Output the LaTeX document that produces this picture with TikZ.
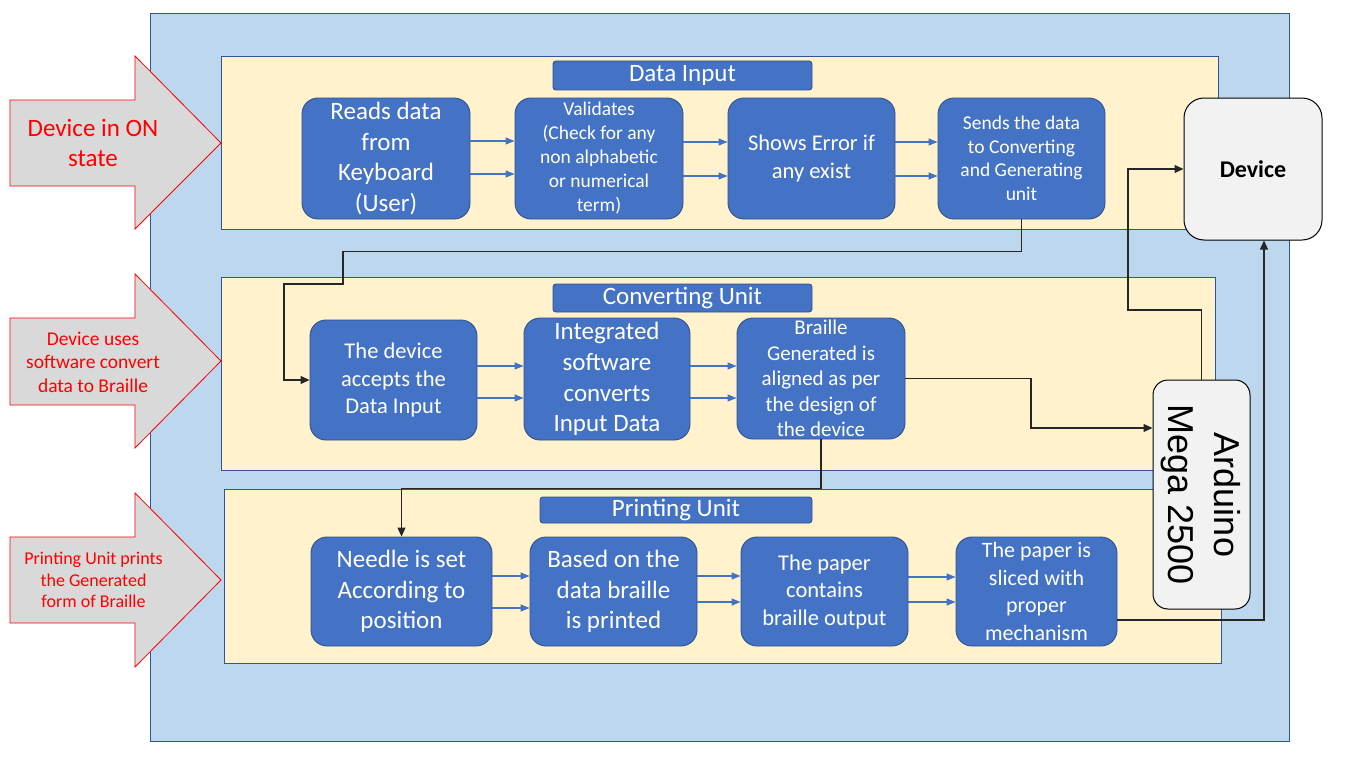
\documentclass[tikz,border=0pt]{standalone}
\usepackage{fontspec}
\setmainfont{Carlito}
\newfontfamily\arialfont{Liberation Sans}
\usetikzlibrary{arrows.meta}
\definecolor{outerfill}{HTML}{BDD7EE}
\definecolor{outerline}{HTML}{2F5597}
\definecolor{panelfill}{HTML}{FFF2CC}
\definecolor{panelline}{HTML}{2F5597}
\definecolor{boxfill}{HTML}{4472C4}
\definecolor{boxline}{HTML}{2F528F}
\definecolor{flowblue}{HTML}{4472C4}
\definecolor{arrowgray}{HTML}{D9D9D9}
\definecolor{devfill}{HTML}{F2F2F2}
\begin{document}
\begin{tikzpicture}[x=1pt,y=-1pt,
  box/.style={draw=boxline, fill=boxfill, text=white, rounded corners=16pt, align=center, inner sep=0pt, line width=0.9pt},
  titlebar/.style={draw=boxline, fill=boxfill, text=white, rounded corners=3pt, inner sep=0pt, line width=0.9pt, font=\fontsize{25}{30}\selectfont},
  panel/.style={draw=panelline, fill=panelfill, line width=0.9pt},
  flow/.style={draw=flowblue, line width=1.1pt, -{Triangle[length=9pt,width=7pt]}},
  link/.style={draw=black!85, line width=1.2pt, -{Triangle[length=9pt,width=8pt]}},
  bigarrow/.style={draw=red, fill=arrowgray, line width=0.8pt},
  redtext/.style={text=red, align=center, inner sep=0pt},
  greybox/.style={draw=black, fill=devfill, line width=1pt, inner sep=0pt}
]
\useasboundingbox (0,0) rectangle (1366,768);
% outer frame
\draw[draw=outerline, fill=outerfill, line width=1pt] (150,14) rectangle (1289,741);
% panels
\draw[panel] (221,56) rectangle (1218,229);
\draw[panel] (221,277) rectangle (1215,470);
\draw[panel] (224,489) rectangle (1221,663);
% left block arrows
\draw[bigarrow] (10,100) -- (135,100) -- (135,56) -- (221,143) -- (135,229) -- (135,186) -- (10,186) -- cycle;
\draw[bigarrow] (10,318) -- (135,318) -- (135,274) -- (221,361) -- (135,448) -- (135,405) -- (10,405) -- cycle;
\draw[bigarrow] (10,537) -- (135,537) -- (135,493) -- (221,580) -- (135,667) -- (135,623) -- (10,623) -- cycle;
\node[redtext, font=\fontsize{25}{30}\selectfont] (a1) at (93,143) {Device in ON\\state};
\node[redtext, font=\fontsize{19.5}{23.5}\selectfont] (a2) at (93,362) {Device uses\\software convert\\data to Braille};
\node[redtext, font=\fontsize{18}{21.5}\selectfont] (a3) at (93.5,580) {Printing Unit prints\\the Generated\\form of Braille};
% titles
\node[titlebar, minimum width=259pt, minimum height=29pt] (t1) at (682.5,75.5) {Data Input};
\node[titlebar, minimum width=259pt, minimum height=28pt] (t2) at (682.5,298) {Converting Unit};
\node[titlebar, minimum width=272pt, minimum height=26pt] (t3) at (676,510) {Printing Unit};
% row 1
\node[box, minimum width=168pt, minimum height=121pt, font=\fontsize{25}{30.7}\selectfont] (b1) at (386,158.5) {Reads data\\from\\Keyboard\\(User)};
\node[box, minimum width=168pt, minimum height=121pt, font=\fontsize{19.5}{24}\selectfont] (b2) at (599,158.5) {Validates\\(Check for any\\non alphabetic\\or numerical\\term)};
\node[box, minimum width=167pt, minimum height=121pt, font=\fontsize{22.5}{28}\selectfont] (b3) at (811.5,158.5) {Shows Error if\\any exist};
\node[box, minimum width=167pt, minimum height=121pt, font=\fontsize{19.5}{23.5}\selectfont] (b4) at (1021.5,158.5) {Sends the data\\to Converting\\and Generating\\unit};
% row 2
\node[box, minimum width=167pt, minimum height=120pt, font=\fontsize{22.5}{27.5}\selectfont] (c1) at (393.5,380) {The device\\accepts the\\Data Input};
\node[box, minimum width=166pt, minimum height=122pt, font=\fontsize{25}{30.7}\selectfont] (c2) at (607,379) {Integrated\\software\\converts\\Input Data};
\node[box, minimum width=168pt, minimum height=121pt, font=\fontsize{21}{25.5}\selectfont] (c3) at (821,378.5) {Braille\\Generated is\\aligned as per\\the design of\\the device};
% row 3
\node[box, minimum width=181pt, minimum height=109pt, font=\fontsize{25}{30.5}\selectfont] (p1) at (401.5,591.5) {Needle is set\\According to\\position};
\node[box, minimum width=167pt, minimum height=109pt, font=\fontsize{25}{30.5}\selectfont] (p2) at (613.5,591.5) {Based on the\\data braille\\is printed};
\node[box, minimum width=167pt, minimum height=109pt, font=\fontsize{22.5}{27.5}\selectfont] (p3) at (824.5,591.5) {The paper\\contains\\braille output};
\node[box, minimum width=161pt, minimum height=109pt, font=\fontsize{22}{27.5}\selectfont] (p4) at (1036.5,591.5) {The paper is\\sliced with\\proper\\mechanism};
% device and arduino
\node[greybox, rounded corners=20pt, minimum width=138pt, minimum height=142pt, font=\bfseries\fontsize{24}{28}\selectfont] (dev) at (1253,169) {Device};
\node[greybox, rounded corners=15pt, minimum width=97pt, minimum height=229pt] (ard) at (1201.5,494.5) {};
\node[rotate=-90, align=center, inner sep=0pt, font=\arialfont\fontsize{36}{46}\selectfont] (ardtext) at (1200.5,495) {Arduino\\Mega 2500};
% flow arrows
\draw[flow] (b1.east |- 0,141) -- (b2.west |- 0,141);
\draw[flow] (b1.east |- 0,174) -- (b2.west |- 0,174);
\draw[flow] (b2.east |- 0,142) -- (b3.west |- 0,142);
\draw[flow] (b2.east |- 0,176) -- (b3.west |- 0,176);
\draw[flow] (b3.east |- 0,142) -- (b4.west |- 0,142);
\draw[flow] (b3.east |- 0,176) -- (b4.west |- 0,176);
\draw[flow] (c1.east |- 0,366) -- (c2.west |- 0,366);
\draw[flow] (c1.east |- 0,398) -- (c2.west |- 0,398);
\draw[flow] (c2.east |- 0,366) -- (c3.west |- 0,366);
\draw[flow] (c2.east |- 0,398) -- (c3.west |- 0,398);
\draw[flow] (p1.east |- 0,576) -- (p2.west |- 0,576);
\draw[flow] (p1.east |- 0,608) -- (p2.west |- 0,608);
\draw[flow] (p2.east |- 0,576) -- (p3.west |- 0,576);
\draw[flow] (p2.east |- 0,602) -- (p3.west |- 0,602);
\draw[flow] (p3.east |- 0,577) -- (p4.west |- 0,577);
\draw[flow] (p3.east |- 0,602) -- (p4.west |- 0,602);
% connectors
\draw[link] (b4.south) -- ++(0,32) -| (343,284) -- (284,284) |- (c1.west);
\draw[link] (c3.south) -- ++(0,49) -| (p1.north);
\draw[link] (c3.east) -| (1031,428) -- (ard.west |- 0,428);
\draw[link] (ard.north) |- (1128,310) |- (dev.west);
\draw[link] (p4.east |- 0,620) -| (dev.south -| 1264,0);
\end{tikzpicture}
\end{document}
